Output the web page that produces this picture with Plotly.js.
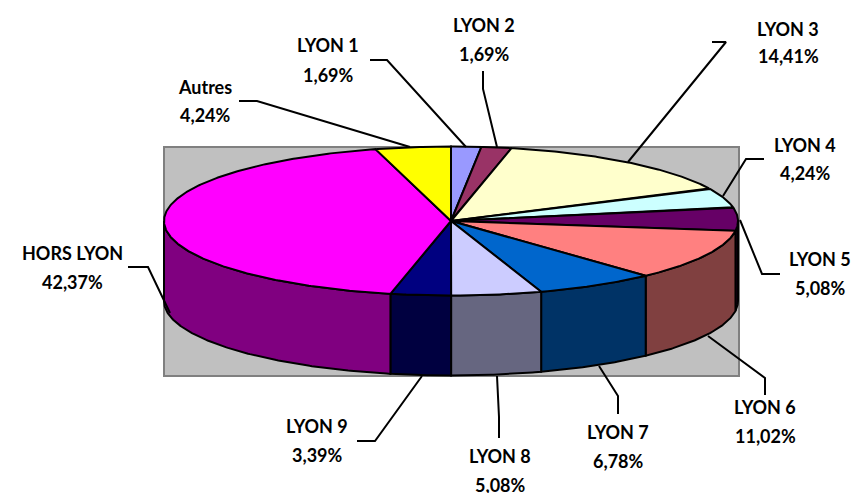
<!DOCTYPE html>
<html>
<head>
<meta charset="utf-8">
<script src="https://cdn.plot.ly/plotly-3.0.1.min.js"></script>
<style>html,body{margin:0;padding:0;background:#fff}#chart{width:860px;height:493px}</style>
</head>
<body>
<div id="chart"></div>
<script>
// Data
var categories = ["LYON 1","LYON 2","LYON 3","LYON 4","LYON 5","LYON 6","LYON 7","LYON 8","LYON 9","HORS LYON","Autres"];
var shares = [1.69,1.69,14.41,4.24,5.08,11.02,6.78,5.08,3.39,42.37,4.24];
var topColors = ["#9999FF","#993366","#FFFFCC","#CCFFFF","#660066","#FF8080","#0066CC","#CCCCFF","#000080","#FF00FF","#FFFF00"];
var sideColors = ["#4D4D80","#4D1A33","#808066","#668080","#330033","#804040","#003366","#666680","#000040","#800080","#808000"];

// Layout (pixel-like axis units)
var pie = {cx:451, cy:221, rx:287, ry:74.5, depth:80};
var labelX = [328,484,788,805,820,765,618,500,317,72,205];
var nameY = [45,25,29,145,259,407,432,456,426,253,87];
var valueY = [75,54,56,173,288,436,461,485,455,282,115];
var leaderX = [[370,387,466],[483,483,497],[712,726,628],[764,746,723],[780,762,740],[708,765,765],[599,618,618],[497,499,499],[422,375,357],[128,148,170],[239,257,410]];
var leaderY = [[60,60,147],[71,89,147],[42,42,162],[159,159,196],[274,274,220],[336,378,395],[366,396,414],[376,417,438],[376,441,441],[267,267,313],[101,101,147]];

var FONT = "Lato, 'Open Sans', sans-serif";
var total = shares.reduce(function(a,b){return a+b;},0);
function px(t){return pie.cx + pie.rx*Math.sin(t*Math.PI/180);}
function py(t){return pie.cy - pie.ry*Math.cos(t*Math.PI/180);}

var traces = [], start = 0, wedges = [];
shares.forEach(function(v,i){ var end = start + v/total*360; wedges.push([start,end]); start = end; });

// Side walls: the part of each wedge on the near half of the cylinder
wedges.forEach(function(w,i){
  var a = Math.max(w[0],90), b = Math.min(w[1],270);
  if (b <= a) return;
  var xs=[], ys=[], t;
  for (t=a; t<b; t+=0.5){ xs.push(px(t)); ys.push(py(t)); }
  xs.push(px(b)); ys.push(py(b));
  for (t=b; t>a; t-=0.5){ xs.push(px(t)); ys.push(py(t)+pie.depth); }
  xs.push(px(a)); ys.push(py(a)+pie.depth);
  xs.push(xs[0]); ys.push(ys[0]);
  traces.push({type:"scatter",mode:"lines",x:xs,y:ys,fill:"toself",fillcolor:sideColors[i],
    line:{color:"#000",width:2},hoverinfo:"skip",showlegend:false});
});

// Top faces
wedges.forEach(function(w,i){
  var xs=[pie.cx], ys=[pie.cy], t;
  for (t=w[0]; t<w[1]; t+=0.5){ xs.push(px(t)); ys.push(py(t)); }
  xs.push(px(w[1])); ys.push(py(w[1]));
  xs.push(pie.cx); ys.push(pie.cy);
  traces.push({type:"scatter",mode:"lines",x:xs,y:ys,fill:"toself",fillcolor:topColors[i],
    line:{color:"#000",width:2},name:categories[i],text:categories[i]+" "+shares[i]+"%",hoverinfo:"text",showlegend:false});
});

// Leader lines
leaderX.forEach(function(lx,i){
  traces.push({type:"scatter",mode:"lines",x:lx,y:leaderY[i],line:{color:"#000",width:2},hoverinfo:"skip",showlegend:false});
});

var annotations = [];
categories.forEach(function(c,i){
  var base = {xref:"x",yref:"y",x:labelX[i],xanchor:"center",yanchor:"middle",showarrow:false,
    font:{family:FONT,size:18,color:"#000",weight:700}};
  annotations.push(Object.assign({},base,{y:nameY[i],text:"<b>"+c+"</b>"}));
  annotations.push(Object.assign({},base,{y:valueY[i],text:"<b>"+shares[i].toFixed(2).replace(".",",")+"%</b>"}));
});

var layout = {
  width:860,height:493,margin:{l:0,r:0,t:0,b:0},
  paper_bgcolor:"#fff",plot_bgcolor:"#fff",showlegend:false,
  xaxis:{range:[0,860],visible:false,fixedrange:true},
  yaxis:{range:[493,0],visible:false,fixedrange:true},
  shapes:[{type:"rect",layer:"below",xref:"x",yref:"y",x0:164,x1:739,y0:147,y1:376,
    fillcolor:"#C0C0C0",line:{color:"#808080",width:2}}],
  annotations:annotations
};
Plotly.newPlot("chart",traces,layout,{displayModeBar:false,staticPlot:true});
</script>
</body>
</html>
